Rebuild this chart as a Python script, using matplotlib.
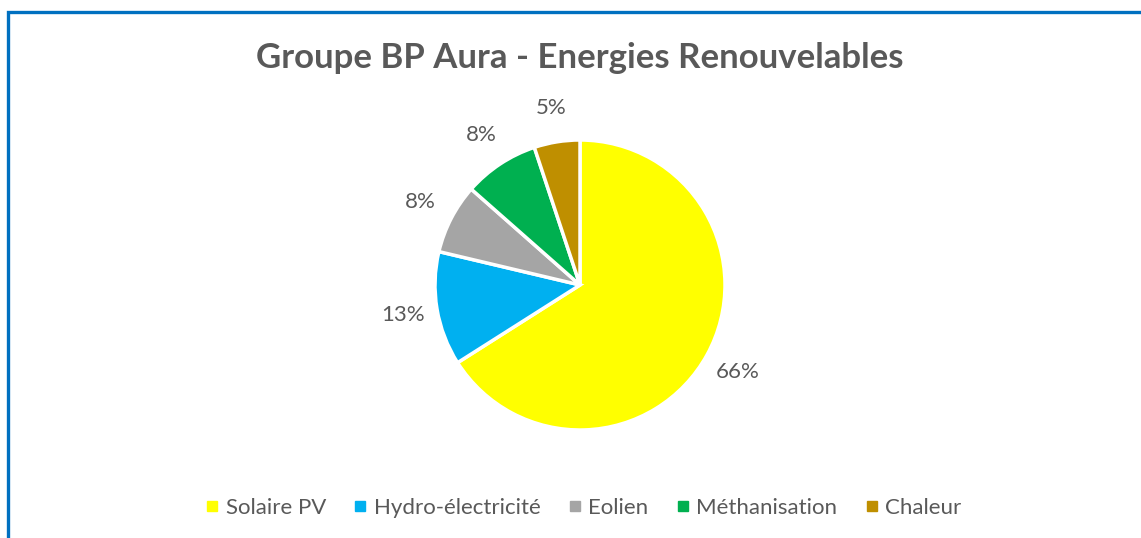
import matplotlib.pyplot as plt
from matplotlib.patches import Rectangle
from matplotlib.lines import Line2D

# Donnees
categories = ['Solaire PV', 'Hydro-électricité', 'Eolien', 'Méthanisation', 'Chaleur']
valeurs = [66.0, 12.7, 7.8, 8.4, 5.1]
couleurs = ['#FFFF00', '#00B0F0', '#A5A5A5', '#00B050', '#BF8F00']
titre = 'Groupe BP Aura - Energies Renouvelables'

plt.rcParams['font.family'] = ['Lato', 'DejaVu Sans']
gris = '#595959'

W, H = 1141, 538
fig = plt.figure(figsize=(W / 100, H / 100), dpi=100)

# cadre bleu (seulement gauche et haut visibles)
fig.patches.append(Rectangle((7.5 / W, -0.1), 1.2, (H - 12.5) / H + 0.1,
                             transform=fig.transFigure, fill=False,
                             edgecolor='#0070C0', linewidth=2.4))

# camembert
cx, cy, r = 580, 285, 145
ax = fig.add_axes([(cx - r) / W, (H - cy - r) / H, 2 * r / W, 2 * r / H])
wedges, textes, pct = ax.pie(valeurs, colors=couleurs, startangle=90, counterclock=False,
                             autopct='%.0f%%', pctdistance=1.24, radius=1,
                             wedgeprops=dict(edgecolor='white', linewidth=2.5),
                             textprops=dict(color=gris, fontsize=16))
ax.set_xlim(-1, 1)
ax.set_ylim(-1, 1)
ax.set_aspect('equal')
ax.axis('off')

fig.text(cx / W, 1 - 58 / H, titre, ha='center', va='center',
         fontsize=25, fontweight='bold', color=gris)

# legende
poignees = [Line2D([], [], marker='s', linestyle='', markersize=7.5,
                   markerfacecolor=c, markeredgecolor=c) for c in couleurs]
fig.legend(poignees, categories, loc='center', bbox_to_anchor=((cx + 4) / W, 1 - 508 / H),
           ncol=5, frameon=False, fontsize=16, labelcolor=gris,
           handlelength=0.5, handletextpad=0.35, columnspacing=1.3)

fig.savefig('out.png', dpi=100, facecolor='white')
